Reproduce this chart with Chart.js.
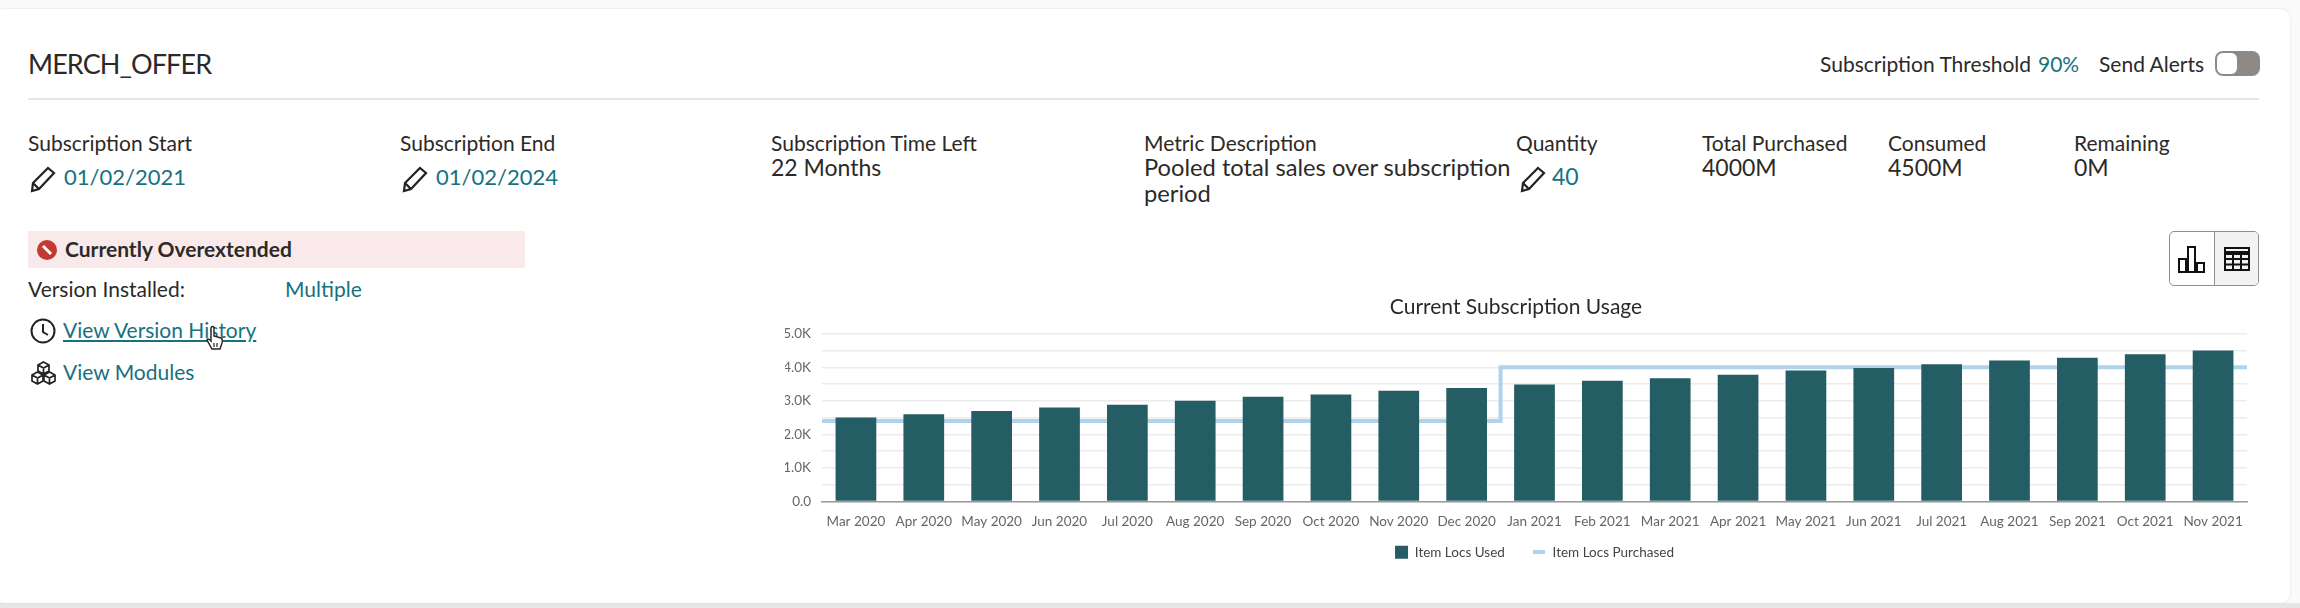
<!DOCTYPE html>
<html>
<head>
<meta charset="utf-8">
<title>MERCH_OFFER</title>
<script src="https://cdn.jsdelivr.net/npm/chart.js@4"></script>
<style>
  html, body { margin: 0; width: 2300px; height: 608px; overflow: hidden; background: #fafafa; font-family: Lato, sans-serif; color: #2c2a28; }
  body { filter: blur(0.4px); }
  .strip { position: absolute; left: 0; right: 0; top: 603px; height: 5px; background: #e6e6e8; }
  .card { position: absolute; left: -4px; top: 9px; width: 2294px; height: 594px; background: #fff; border-radius: 9px; box-shadow: 0 0 2px #d8d6da; }
  .t { position: absolute; white-space: nowrap; line-height: 1; transform: translateY(calc(-50% - 1.5px)); font-size: 21px; }
  .val { font-size: 23px; }
  .link { color: #17717f; }
  .rule { position: absolute; left: 28px; width: 2231px; top: 98px; height: 2px; background: #e8e6e9; }
  .alert { position: absolute; left: 28px; top: 231px; width: 497px; height: 37px; background: #f9e9ea; }
  .toggle { position: absolute; left: 2215px; top: 51px; width: 45px; height: 25px; border-radius: 8px; background: #8f8985; }
  .toggle i { position: absolute; left: 1px; top: 1px; width: 22px; height: 23px; border-radius: 7px; background: #fff; border: 1px solid #8f8985; box-sizing: border-box; }
  .btns { position: absolute; left: 2169px; top: 231px; width: 90px; height: 55px; border: 1px solid #8f8f8f; border-radius: 5px; box-sizing: border-box; background: #fff; overflow: hidden; }
  .btns b { position: absolute; left: 44px; top: 0; width: 46px; height: 55px; background: #f2f2f2; border-left: 1px solid #8f8f8f; }
  svg { position: absolute; overflow: visible; }
  .chart-box { position: absolute; left: 780px; top: 295px; width: 1472px; height: 288px; }
</style>
</head>
<body>
<div class="strip"></div>
<div class="card"></div>

<div class="t" style="left:28px;top:65px;font-size:27px;letter-spacing:-0.9px">MERCH_OFFER</div>
<div class="t" style="left:1820px;top:65px">Subscription Threshold</div>
<div class="t link" style="left:2038px;top:65px">90%</div>
<div class="t" style="left:2099px;top:65px">Send Alerts</div>
<div class="toggle"><i></i></div>
<div class="rule"></div>

<div class="t" style="left:28px;top:144px">Subscription Start</div>
<div class="t val link" style="left:64px;top:178px;font-size:22px">01/02/2021</div>
<div class="t" style="left:400px;top:144px">Subscription End</div>
<div class="t val link" style="left:436px;top:178px;font-size:22px">01/02/2024</div>
<div class="t" style="left:771px;top:144px">Subscription Time Left</div>
<div class="t val" style="left:771px;top:169px">22 Months</div>
<div class="t" style="left:1144px;top:144px">Metric Description</div>
<div class="t val" style="left:1144px;top:169px;font-size:23.7px">Pooled total sales over subscription</div>
<div class="t val" style="left:1144px;top:195px;font-size:23.7px">period</div>
<div class="t" style="left:1516px;top:144px">Quantity</div>
<div class="t val link" style="left:1552px;top:178px">40</div>
<div class="t" style="left:1702px;top:144px">Total Purchased</div>
<div class="t val" style="left:1702px;top:169px">4000M</div>
<div class="t" style="left:1888px;top:144px">Consumed</div>
<div class="t val" style="left:1888px;top:169px">4500M</div>
<div class="t" style="left:2074px;top:144px">Remaining</div>
<div class="t val" style="left:2074px;top:169px">0M</div>

<!-- pencil icons -->
<svg style="left:30px;top:167px" width="26" height="26" viewBox="0 0 26 26"><path d="M2 24 L3 16 L18 1 L24 6 L9 22 Z M3 16 L9 22" fill="none" stroke="#222" stroke-width="2.2"/></svg>
<svg style="left:402px;top:167px" width="26" height="26" viewBox="0 0 26 26"><path d="M2 24 L3 16 L18 1 L24 6 L9 22 Z M3 16 L9 22" fill="none" stroke="#222" stroke-width="2.2"/></svg>
<svg style="left:1520px;top:167px" width="26" height="26" viewBox="0 0 26 26"><path d="M2 24 L3 16 L18 1 L24 6 L9 22 Z M3 16 L9 22" fill="none" stroke="#222" stroke-width="2.2"/></svg>

<div class="alert"></div>
<svg style="left:37px;top:240px" width="20" height="20" viewBox="0 0 20 20"><circle cx="10" cy="10" r="10" fill="#c23a32"/><path d="M6 6 L14 14" stroke="#fff" stroke-width="3"/></svg>
<div class="t" style="left:65px;top:250px;font-weight:700">Currently Overextended</div>
<div class="t" style="left:28px;top:290px">Version Installed:</div>
<div class="t link" style="left:285px;top:290px">Multiple</div>

<svg style="left:30px;top:318px" width="26" height="26" viewBox="0 0 26 26"><circle cx="13" cy="13" r="11.5" fill="none" stroke="#222" stroke-width="2"/><path d="M13 6 V14 L18 17" fill="none" stroke="#222" stroke-width="2"/></svg>
<div class="t link" style="left:63px;top:331px;text-decoration:underline">View Version History</div>
<svg style="left:205px;top:326px" width="20" height="24" viewBox="0 0 20 24"><path d="M6 2 a1.5 1.5 0 0 1 3 0 V10 L16 12 Q18 13 17 17 L15 23 H7 L2 14 Q2 12 5 14 L6 15 Z" fill="#fff" stroke="#222" stroke-width="1.4"/><path d="M9 17 V21 M12 17 V21" stroke="#222" stroke-width="1.2"/></svg>

<svg style="left:31px;top:361px" width="25" height="25" viewBox="0 0 25 25" fill="#fff" stroke="#222" stroke-width="1.7" stroke-linejoin="miter"><path d="M12.5 1 L18 4 V10 L12.5 13 L7 10 V4 Z M7 4 L12.5 7 L18 4 M12.5 7 V13"/><path d="M6.5 11 L12 14 V20 L6.5 23 L1 20 V14 Z M1 14 L6.5 17 L12 14 M6.5 17 V23"/><path d="M18.5 11 L24 14 V20 L18.5 23 L13 20 V14 Z M13 14 L18.5 17 L24 14 M18.5 17 V23"/></svg>
<div class="t link" style="left:63px;top:373px">View Modules</div>

<div class="btns"><b></b></div>
<svg style="left:2178px;top:245px" width="27" height="28" viewBox="0 0 27 28" fill="none" stroke="#111" stroke-width="2"><rect x="1" y="14" width="7" height="13"/><rect x="10" y="2" width="7" height="25"/><rect x="19" y="18" width="7" height="9"/></svg>
<svg style="left:2224px;top:247px" width="26" height="24" viewBox="0 0 26 24" fill="none" stroke="#111" stroke-width="2"><rect x="1" y="1" width="24" height="22"/><path d="M1 6 H25" stroke-width="4"/><path d="M1 12 H25 M1 17.5 H25 M9 6 V23 M17 6 V23"/></svg>

<div class="chart-box"><canvas id="chart"></canvas></div>

<script>
const categories = ['Mar 2020', 'Apr 2020', 'May 2020', 'Jun 2020', 'Jul 2020', 'Aug 2020', 'Sep 2020',
  'Oct 2020', 'Nov 2020', 'Dec 2020', 'Jan 2021', 'Feb 2021', 'Mar 2021', 'Apr 2021', 'May 2021',
  'Jun 2021', 'Jul 2021', 'Aug 2021', 'Sep 2021', 'Oct 2021', 'Nov 2021']
const itemLocsUsed = [2500, 2600, 2700, 2800, 2880, 3000, 3120, 3190, 3300, 3380, 3490,
  3600, 3670, 3780, 3900, 3980, 4090, 4200, 4280, 4390, 4500]
const itemLocsPurchased = [2400, 2400, 2400, 2400, 2400, 2400, 2400, 2400, 2400, 2400, 4000,
  4000, 4000, 4000, 4000, 4000, 4000, 4000, 4000, 4000, 4000]

// El escalon llega hasta los bordes del area: medio paso extra a cada lado.
const last = itemLocsPurchased.length - 1
const purchasedPoints = [
  { x: -0.5, y: itemLocsPurchased[0] },
  ...itemLocsPurchased.map((y, x) => ({ x, y })),
  { x: last + 0.5, y: itemLocsPurchased[last] }
]

const BAR_COLOR = '#255d64'
const LINE_COLOR = '#aed3ea'
const TICK_COLOR = '#666'

const lineSwatch = document.createElement('canvas')
lineSwatch.width = 12
lineSwatch.height = 4
const sw = lineSwatch.getContext('2d')
sw.fillStyle = LINE_COLOR
sw.fillRect(0, 0, 12, 4)

// labels.padding separa los items pero tambien empuja la leyenda hacia abajo.
const liftLegend = {
  id: 'liftLegend',
  afterLayout: (chart) => { chart.legend.top -= 14 }
}

new Chart(document.getElementById('chart'), {
  data: {
    labels: categories,
    datasets: [
      { type: 'bar', label: 'Item Locs Used', data: itemLocsUsed, backgroundColor: BAR_COLOR, grouped: false, barPercentage: 0.6, categoryPercentage: 1, order: 1 },
      { type: 'line', label: 'Item Locs Purchased', data: purchasedPoints, xAxisID: 'xLine', borderColor: LINE_COLOR, borderWidth: 4, stepped: 'middle', pointRadius: 0, order: 2 }
    ]
  },
  plugins: [liftLegend],
  options: {
    responsive: true,
    maintainAspectRatio: false,
    animation: false,
    devicePixelRatio: 1,
    layout: { padding: { left: 5, right: 5, top: 0, bottom: 0 } },
    scales: {
      x: {
        afterFit: (scale) => { scale.height = 30 },
        grid: { display: false },
        border: { color: '#9a9a9a', width: 1.5 },
        ticks: { autoSkip: false, maxRotation: 0, padding: 4, color: TICK_COLOR, font: { family: 'Lato', size: 13.5 } }
      },
      xLine: { type: 'linear', display: false, min: -0.5, max: last + 0.5 },
      y: {
        min: 0,
        max: 5000,
        afterFit: (scale) => { scale.width = 37 },
        grid: { color: '#ecebee', lineWidth: 1.5, drawTicks: false },
        border: { display: false },
        ticks: {
          stepSize: 500,
          autoSkip: false,
          padding: 11,
          color: TICK_COLOR,
          font: { family: 'Lato', size: 13.5 },
          callback: (v) => (v === 0 ? '0.0' : v % 1000 === 0 ? `${(v / 1000).toFixed(1)}K` : '')
        }
      }
    },
    plugins: {
      tooltip: { enabled: false },
      title: {
        display: true,
        text: 'Current Subscription Usage',
        color: '#2c2a28',
        font: { family: 'Lato', size: 21, weight: 'normal' },
        padding: { top: 0, bottom: 13.5 }
      },
      legend: {
        position: 'bottom',
        fullSize: false,
        labels: {
          usePointStyle: true,
          boxWidth: 13,
          boxHeight: 13,
          padding: 28,
          color: '#444',
          font: { family: 'Lato', size: 13.5 },
          generateLabels: (chart) => chart.data.datasets.map((ds, i) => ({
            text: ds.label,
            datasetIndex: i,
            fontColor: '#444',
            fillStyle: i === 0 ? BAR_COLOR : LINE_COLOR,
            strokeStyle: i === 0 ? BAR_COLOR : LINE_COLOR,
            lineWidth: 0,
            pointStyle: i === 0 ? 'rect' : lineSwatch
          }))
        }
      }
    }
  }
})
</script>
</body>
</html>
